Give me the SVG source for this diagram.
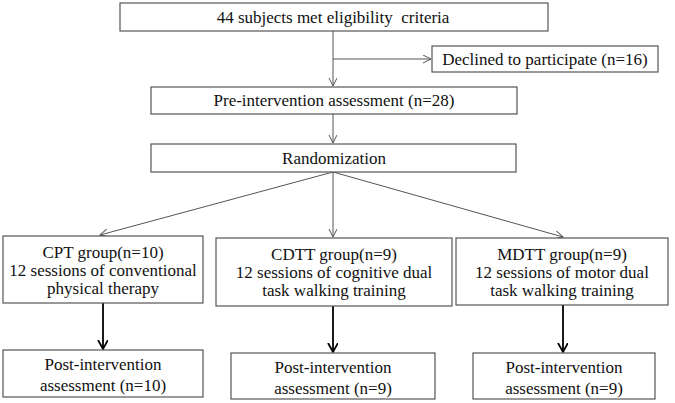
<svg xmlns="http://www.w3.org/2000/svg" width="675" height="403" viewBox="0 0 675 403">
<defs>
<style>
.box{fill:#fff;stroke:#555;stroke-width:1.2}
.t{font-family:'Liberation Serif','Times New Roman',Tinos,'Nimbus Roman','DejaVu Serif',serif;font-size:17px;fill:#111;text-anchor:middle}
.c{fill:none;stroke:#555;stroke-width:1}
.ck{fill:none;stroke:#000;stroke-width:1.8}
</style>
<marker id="a" markerWidth="10" markerHeight="10" refX="8" refY="4" orient="auto" markerUnits="userSpaceOnUse"><path d="M0,0 L8,4 L0,8" fill="none" stroke="#555" stroke-width="1"/></marker>
<marker id="ak" markerWidth="12" markerHeight="12" refX="9" refY="5" orient="auto" markerUnits="userSpaceOnUse"><path d="M0,0 L9,5 L0,10" fill="none" stroke="#000" stroke-width="1.8"/></marker>
</defs>
<rect width="675" height="403" fill="#fff"/>
<g id="connectors">
<line class="c" x1="333" y1="31" x2="333" y2="86" marker-end="url(#a)"/>
<line class="c" x1="333" y1="59" x2="431" y2="59" marker-end="url(#a)"/>
<line class="c" x1="333" y1="114" x2="333" y2="143" marker-end="url(#a)"/>
<line class="c" x1="333" y1="172" x2="100" y2="235" marker-end="url(#a)"/>
<line class="c" x1="333" y1="172" x2="333" y2="237" marker-end="url(#a)"/>
<line class="c" x1="333" y1="172" x2="563" y2="237" marker-end="url(#a)"/>
<line class="ck" x1="103" y1="303" x2="103" y2="349" marker-end="url(#ak)"/>
<line class="ck" x1="333" y1="306" x2="333" y2="352" marker-end="url(#ak)"/>
<line class="ck" x1="563" y1="305" x2="563" y2="352" marker-end="url(#ak)"/>
</g>
<g id="eligible"><rect class="box" x="120" y="3" width="428" height="28"/><text class="t" x="333" y="23" xml:space="preserve">44 subjects met eligibility  criteria</text></g>
<g id="declined"><rect class="box" x="432" y="46" width="226" height="26"/><text class="t" x="545" y="65">Declined to participate (n=16)</text></g>
<g id="pre"><rect class="box" x="151" y="87" width="366" height="27"/><text class="t" x="334" y="106">Pre-intervention assessment (n=28)</text></g>
<g id="random"><rect class="box" x="151" y="144" width="365" height="28"/><text class="t" x="334" y="164">Randomization</text></g>
<g id="cpt"><rect class="box" x="3" y="236" width="200" height="67"/><text class="t" x="103" y="258">CPT group(n=10)</text><text class="t" x="103" y="276">12 sessions of conventional</text><text class="t" x="103" y="294">physical therapy</text></g>
<g id="cdtt"><rect class="box" x="216" y="238" width="236" height="68"/><text class="t" x="334" y="260">CDTT group(n=9)</text><text class="t" x="334" y="278">12 sessions of cognitive dual</text><text class="t" x="334" y="296">task walking training</text></g>
<g id="mdtt"><rect class="box" x="456" y="238" width="212" height="67"/><text class="t" x="562" y="260">MDTT group(n=9)</text><text class="t" x="562" y="278">12 sessions of motor dual</text><text class="t" x="562" y="296">task walking training</text></g>
<g id="post1"><rect class="box" x="3" y="350" width="200" height="47"/><text class="t" x="103" y="370">Post-intervention</text><text class="t" x="103" y="391">assessment (n=10)</text></g>
<g id="post2"><rect class="box" x="231" y="353" width="204" height="46"/><text class="t" x="333" y="373">Post-intervention</text><text class="t" x="333" y="394">assessment (n=9)</text></g>
<g id="post3"><rect class="box" x="473" y="353" width="182" height="46"/><text class="t" x="564" y="373">Post-intervention</text><text class="t" x="564" y="394">assessment (n=9)</text></g>
</svg>
